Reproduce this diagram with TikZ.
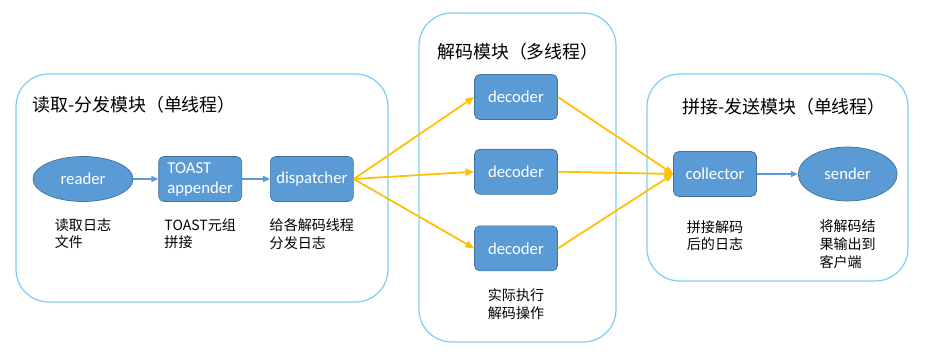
\documentclass[tikz,border=0pt]{standalone}
\usepackage{fontspec}
\setmainfont{Carlito}
\newfontfamily\cjk{Noto Sans CJK SC}
\usepackage{xcolor}
\usetikzlibrary{positioning,arrows.meta,shapes.geometric}
\definecolor{nodeblue}{HTML}{5B9BD5}
\definecolor{nodeedge}{HTML}{41719C}
\definecolor{framecol}{HTML}{7FD0F5}
\definecolor{flowor}{HTML}{FFC000}

\begin{document}
\begin{tikzpicture}[
 x=0.02cm, y=-0.02cm,
 node distance=0.5cm and 0.5cm,
 module/.style={rectangle, draw=framecol, line width=0.7pt, rounded corners=0.65cm},
 modtitle/.style={font=\cjk\fontsize{10.2}{12}\selectfont, inner sep=0pt},
 proc/.style={rectangle, draw=nodeedge, fill=nodeblue, text=white, rounded corners=3pt, minimum width=1.66cm, minimum height=0.9cm, font=\fontsize{9.5}{11.4}\selectfont, align=left, inner sep=2pt},
 endpt/.style={ellipse, draw=nodeedge, fill=nodeblue, text=white, minimum width=2cm, minimum height=0.9cm, font=\fontsize{9.5}{11.4}\selectfont},
 note/.style={font=\cjk\fontsize{8}{10.2}\selectfont, align=left, inner sep=0pt},
 blueline/.style={-{Triangle[length=4pt,width=3.5pt]}, nodeblue, line width=0.6pt},
 orangeline/.style={-{Triangle[length=5pt,width=4pt]}, flowor, line width=1pt}
 ]
 \fill[white] (0,0) rectangle (927,358);
 \useasboundingbox (0,0) rectangle (927,358);

 % Module frames
 \node[module, minimum width=7.44cm, minimum height=4.56cm] (readmod) at (202,188) {};
 \node[module, minimum width=3.94cm, minimum height=6.58cm] (decmod) at (517.5,177.5) {};
 \node[module, minimum width=5.22cm, minimum height=4.14cm] (sendmod) at (777.5,177.5) {};

 % Titles
 \node[modtitle, anchor=west] (readtitle) at (32,105) {读取-分发模块（单线程）};
 \node[modtitle] (dectitle) at (518,52) {解码模块（多线程）};
 \node[modtitle, anchor=west] (sendtitle) at (682,107) {拼接-发送模块（单线程）};

 % Reader / dispatcher module
 \node[endpt] (reader) at (83,179) {reader};
 \node[proc, right=0.5cm of reader] (appender) {TOAST\\appender};
 \node[proc, right=0.56cm of appender] (dispatcher) {dispatcher};
 \node[note, below=0.32cm of reader] (readnote) {读取日志\\文件};
 \node[note, below=0.32cm of appender] (appendnote) {TOAST元组\\拼接};
 \node[note, below=0.32cm of dispatcher] (dispnote) {给各解码线程\\分发日志};

 % Decoder module
 \node[proc] (dec1) at (516,97) {decoder};
 \node[proc, below=0.58cm of dec1] (dec2) {decoder};
 \node[proc, below=0.62cm of dec2] (dec3) {decoder};
 \node[note, below=0.34cm of dec3] (decnote) {实际执行\\解码操作};

 % Collector / sender module
 \node[proc] (collector) at (715,174) {collector};
 \node[endpt, minimum width=1.98cm, minimum height=1.08cm, right=0.82cm of collector] (sender) {sender};
 \node[note, below=0.46cm of collector] (collnote) {拼接解码\\后的日志};
 \node[note, below=0.36cm of sender] (sendnote) {将解码结\\果输出到\\客户端};

 % Arrows inside modules
 \draw[blueline] (reader) -- (appender);
 \draw[blueline] (appender) -- (dispatcher);
 \draw[blueline] (collector) -- (sender);

 % Arrows to decoders
 \draw[orangeline] (dispatcher.east) -- (dec1.west);
 \draw[orangeline] (dispatcher.east) -- (dec2.west);
 \draw[orangeline] (dispatcher.east) -- (dec3.west);

 % Arrows to collector
 \draw[orangeline] (dec1.east) -- (collector.west);
 \draw[orangeline] (dec2.east) -- (collector.west);
 \draw[orangeline] (dec3.east) -- (collector.west);
\end{tikzpicture}
\end{document}
